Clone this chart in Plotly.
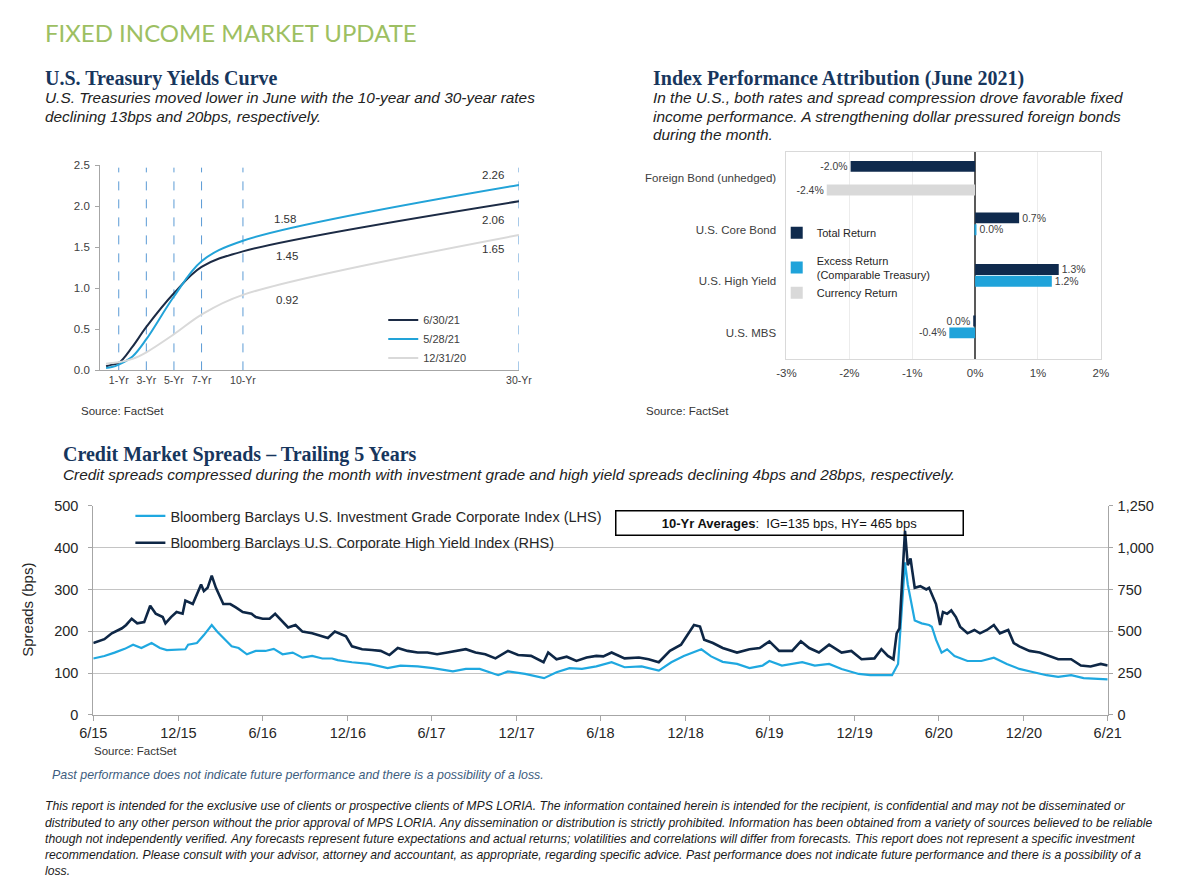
import plotly.graph_objects as go

# The page adds an 8px body margin, so the figure is sized to fill the 1200x888 window exactly.
PAGE_W, PAGE_H, BODY_M = 1200, 888, 8
W, H = PAGE_W - 2 * BODY_M, PAGE_H - 2 * BODY_M


def px(x):
    return (x - BODY_M) / W


def py(y):
    return 1 - (y - BODY_M) / H


SANS = "Liberation Sans, Arial, sans-serif"
SERIF = "Liberation Serif, Times New Roman, serif"
NAVY_HEAD = "#17365d"

# ---------------- Panel 1: Treasury yield curve ----------------
maturities = [0.083, 0.5, 1, 2, 3, 5, 7, 10, 30]
curve_labels = ["6/30/21", "5/28/21", "12/31/20"]
yields_jun21 = [0.05, 0.07, 0.09, 0.29, 0.53, 0.94, 1.26, 1.45, 2.06]
yields_may21 = [0.03, 0.04, 0.07, 0.17, 0.38, 0.90, 1.33, 1.58, 2.26]
yields_dec20 = [0.08, 0.09, 0.10, 0.14, 0.22, 0.44, 0.68, 0.92, 1.65]
tenor_ticks = [1, 3, 5, 7, 10, 30]
tenor_text = ["1-Yr", "3-Yr", "5-Yr", "7-Yr", "10-Yr", "30-Yr"]
curve_colors = ["#1c2b45", "#22a3d8", "#d9d9d9"]

# ---------------- Panel 2: Index performance attribution ----------------
attr_categories = ["Foreign Bond (unhedged)", "U.S. Core Bond", "U.S. High Yield", "U.S. MBS"]
total_return = [-1.98, 0.70, 1.33, -0.03]
excess_return = [None, 0.02, 1.22, -0.41]
currency_return = [-2.36, None, None, None]
attr_names = ["Total Return", "Excess Return<br>(Comparable Treasury)", "Currency Return"]
attr_colors = ["#0f2a4d", "#1fa3da", "#d9d9d9"]

# ---------------- Panel 3: Credit spreads ----------------
ig_dates = ["2015-07-01", "2015-07-25", "2015-08-16", "2015-09-07", "2015-09-25", "2015-10-13",
            "2015-11-04", "2015-11-22", "2015-12-07", "2015-12-28", "2016-01-16", "2016-01-22",
            "2016-02-10", "2016-02-25", "2016-03-13", "2016-03-25", "2016-04-10", "2016-04-25",
            "2016-05-10", "2016-05-28", "2016-06-16", "2016-07-07", "2016-07-25", "2016-08-13",
            "2016-09-04", "2016-09-25", "2016-10-16", "2016-11-07", "2016-11-28", "2016-12-10",
            "2016-12-22", "2017-01-10", "2017-02-16", "2017-03-28", "2017-04-25", "2017-06-01",
            "2017-07-04", "2017-08-16", "2017-09-13", "2017-10-13", "2017-11-22", "2017-12-13",
            "2018-01-19", "2018-03-01", "2018-03-28", "2018-04-25", "2018-05-22", "2018-06-22",
            "2018-07-25", "2018-08-22", "2018-09-28", "2018-11-04", "2018-12-01", "2018-12-28",
            "2019-02-04", "2019-02-25", "2019-03-22", "2019-04-22", "2019-05-19", "2019-06-16",
            "2019-07-01", "2019-07-28", "2019-09-10", "2019-10-07", "2019-11-07", "2019-12-04",
            "2020-01-10", "2020-02-04", "2020-03-01", "2020-03-22", "2020-04-04", "2020-04-13",
            "2020-04-19", "2020-04-25", "2020-05-01", "2020-05-10", "2020-05-25", "2020-06-10",
            "2020-06-16", "2020-06-25", "2020-07-07", "2020-07-19", "2020-08-04", "2020-09-01",
            "2020-10-01", "2020-10-28", "2020-11-25", "2020-12-22", "2021-01-22", "2021-02-19",
            "2021-03-16", "2021-04-13", "2021-05-10", "2021-07-01"]
ig_spread = [135, 141, 149, 158, 168, 160,
             172, 160, 155, 157, 157, 168,
             172, 191, 215, 199, 180, 164,
             160, 145, 153, 153, 158, 145,
             149, 137, 141, 135, 135, 131,
             129, 126, 122, 112, 118, 116,
             112, 104, 110, 110, 95, 104,
             98, 88, 102, 112, 110, 116,
             126, 114, 116, 106, 126, 141,
             157, 140, 127, 122, 112, 118,
             129, 118, 126, 118, 122, 110,
             98, 95, 95, 95, 122, 281,
             365, 312, 281, 226, 219, 215,
             211, 180, 149, 157, 141, 129,
             129, 137, 122, 110, 102, 95,
             91, 95, 88, 85]

hy_dates = ["2015-07-01", "2015-07-25", "2015-08-10", "2015-09-01", "2015-09-10", "2015-09-22",
            "2015-10-04", "2015-10-19", "2015-11-01", "2015-11-13", "2015-11-28", "2015-12-04",
            "2015-12-16", "2015-12-28", "2016-01-10", "2016-01-16", "2016-02-01", "2016-02-19",
            "2016-02-25", "2016-03-04", "2016-03-13", "2016-03-22", "2016-04-07", "2016-04-22",
            "2016-05-04", "2016-05-19", "2016-06-07", "2016-06-16", "2016-07-01", "2016-07-16",
            "2016-07-28", "2016-08-13", "2016-08-25", "2016-09-10", "2016-09-25", "2016-10-16",
            "2016-11-07", "2016-11-19", "2016-12-04", "2016-12-22", "2016-12-28", "2017-01-10",
            "2017-02-01", "2017-02-22", "2017-03-13", "2017-04-01", "2017-04-19", "2017-05-10",
            "2017-06-01", "2017-06-22", "2017-07-13", "2017-08-04", "2017-08-22", "2017-09-13",
            "2017-10-04", "2017-10-25", "2017-11-16", "2017-12-13", "2018-01-04", "2018-02-01",
            "2018-02-28", "2018-03-10", "2018-03-28", "2018-04-19", "2018-05-10", "2018-06-01",
            "2018-06-22", "2018-07-07", "2018-07-25", "2018-08-22", "2018-09-22", "2018-10-13",
            "2018-11-04", "2018-11-28", "2018-12-22", "2019-01-19", "2019-02-01", "2019-02-10",
            "2019-03-01", "2019-03-22", "2019-04-22", "2019-05-19", "2019-06-10", "2019-07-01",
            "2019-07-22", "2019-08-19", "2019-09-07", "2019-09-25", "2019-10-16", "2019-11-07",
            "2019-12-04", "2019-12-25", "2020-01-16", "2020-02-13", "2020-02-28", "2020-03-13",
            "2020-03-25", "2020-04-01", "2020-04-07", "2020-04-13", "2020-04-16", "2020-04-19",
            "2020-04-25", "2020-05-01", "2020-05-04", "2020-05-10", "2020-05-22", "2020-06-04",
            "2020-06-10", "2020-06-25", "2020-07-04", "2020-07-10", "2020-07-19", "2020-07-28",
            "2020-08-07", "2020-08-16", "2020-09-01", "2020-09-16", "2020-09-28", "2020-10-13",
            "2020-10-28", "2020-11-10", "2020-11-28", "2020-12-10", "2020-12-22", "2021-01-13",
            "2021-02-04", "2021-02-25", "2021-03-16", "2021-04-13", "2021-05-04", "2021-05-25",
            "2021-06-16", "2021-07-01"]
hy_spread = [430, 453, 488, 518, 538, 575,
             548, 555, 653, 605, 585, 548,
             585, 615, 605, 683, 663, 780,
             740, 760, 833, 760, 663, 663,
             643, 615, 605, 585, 575, 575,
             605, 555, 523, 538, 498, 488,
             470, 460, 498, 478, 470, 410,
             393, 388, 383, 358, 400, 383,
             373, 373, 363, 373, 383, 393,
             373, 363, 338, 383, 358, 353,
             315, 373, 333, 348, 323, 343,
             353, 350, 373, 338, 343, 333,
             315, 383, 420, 538, 528, 450,
             430, 400, 373, 393, 400, 440,
             383, 383, 440, 400, 373, 420,
             373, 383, 333, 338, 393, 353,
             333, 488, 518, 798, 993, 1100,
             895, 935, 875, 760, 770, 750,
             760, 663, 538, 615, 605, 625,
             585, 528, 488, 508, 488, 508,
             538, 488, 508, 430, 410, 383,
             373, 353, 333, 333, 295, 290,
             305, 295]
date_ticks = ["2015-07-01", "2016-01-01", "2016-07-01", "2017-01-01", "2017-07-01", "2018-01-01",
              "2018-07-01", "2019-01-01", "2019-07-01", "2020-01-01", "2020-07-01", "2021-01-01",
              "2021-07-01"]
date_tick_text = ["6/15", "12/15", "6/16", "12/16", "6/17", "12/17", "6/18", "12/18", "6/19",
                  "12/19", "6/20", "12/20", "6/21"]
spread_names = ["Bloomberg Barclays U.S. Investment Grade Corporate Index (LHS)",
                "Bloomberg Barclays U.S. Corporate High Yield Index (RHS)"]
spread_colors = ["#1fa8e0", "#0e2746"]

fig = go.Figure()

# ---- panel 1 traces
for name, ys, col in zip(curve_labels, [yields_jun21, yields_may21, yields_dec20], curve_colors):
    fig.add_trace(go.Scatter(x=maturities, y=ys, mode="lines", name=name,
                             line=dict(color=col, width=2, shape="spline", smoothing=1.0),
                             xaxis="x", yaxis="y", legend="legend", hoverinfo="skip"))


def pct_label(v):
    if v is None:
        return None
    return "0.0%" if abs(v) < 0.05 else f"{v:.1f}%"


# ---- panel 2 traces
for i, (name, vals, col) in enumerate(zip(attr_names, [total_return, excess_return, currency_return], attr_colors)):
    fig.add_trace(go.Bar(x=vals, y=attr_categories, orientation="h", name=name,
                         marker=dict(color=col, line=dict(width=0)),
                         text=[pct_label(v) for v in vals], textposition="outside",
                         textfont=dict(size=11.5, color="#404040", family=SANS),
                         cliponaxis=False, xaxis="x2", yaxis="y2",
                         legend="legend2" if i == 0 else "legend3", legendgroup=f"g{i}"))

# ---- panel 3 traces
fig.add_trace(go.Scatter(x=ig_dates, y=ig_spread, mode="lines", name=spread_names[0],
                         line=dict(color=spread_colors[0], width=2.2), xaxis="x3", yaxis="y3",
                         legend="legend4", legendgroup="ig"))
fig.add_trace(go.Scatter(x=hy_dates, y=hy_spread, mode="lines", name=spread_names[1],
                         line=dict(color=spread_colors[1], width=2.6), xaxis="x3", yaxis="y4",
                         legend="legend4", legendgroup="hy"))

# dashed tenor lines
shapes = []
for t in tenor_ticks:
    shapes.append(dict(type="line", xref="x", yref="y", x0=t, x1=t, y0=0, y1=2.47,
                       line=dict(color="#5b9bd5", width=1, dash="dash"), layer="below"))

annotations = []


def txt(x, y, text, size, color="#222222", family=SANS, xanchor="left", **kw):
    annotations.append(dict(xref="paper", yref="paper", x=px(x), y=py(y), text=text,
                            showarrow=False, xanchor=xanchor, yanchor="middle",
                            font=dict(size=size, color=color, family=family), **kw))


txt(30, 25, "FIXED INCOME MARKET UPDATE", 24, color="#9dbf62", family="Lato, Open Sans, sans-serif")

txt(30, 72, "<b>U.S. Treasury Yields Curve</b>", 20, color=NAVY_HEAD, family=SERIF)
txt(30, 91, "<i>U.S. Treasuries moved lower in June with the 10-year and 30-year rates</i>", 15.4)
txt(30, 110, "<i>declining 13bps and 20bps, respectively.</i>", 15.4)

txt(652, 72, "<b>Index Performance Attribution (June 2021)</b>", 20, color=NAVY_HEAD, family=SERIF)
txt(652, 91, "<i>In the U.S., both rates and spread compression drove favorable fixed</i>", 15.4)
txt(652, 110, "<i>income performance. A strengthening dollar pressured foreign bonds</i>", 15.4)
txt(652, 129, "<i>during the month.</i>", 15.4)

txt(66, 410, "Source: FactSet", 11.5, color="#333333")
txt(645, 410, "Source: FactSet", 11.5, color="#333333")

txt(48, 455, "<b>Credit Market Spreads – Trailing 5 Years</b>", 20, color=NAVY_HEAD, family=SERIF)
txt(48, 475, "<i>Credit spreads compressed during the month with investment grade and high yield spreads declining 4bps and 28bps, respectively.</i>", 15.4)
txt(80, 757, "Source: FactSet", 11.5, color="#333333")
txt(37, 781, "<i>Past performance does not indicate future performance and there is a possibility of a loss.</i>", 12.4, color="#3d5d7e")

disclaimer = [
    "This report is intended for the exclusive use of clients or prospective clients of MPS LORIA. The information contained herein is intended for the recipient, is confidential and may not be disseminated or",
    "distributed to any other person without the prior approval of MPS LORIA. Any dissemination or distribution is strictly prohibited. Information has been obtained from a variety of sources believed to be reliable",
    "though not independently verified. Any forecasts represent future expectations and actual returns; volatilities and correlations will differ from forecasts. This report does not represent a specific investment",
    "recommendation. Please consult with your advisor, attorney and accountant, as appropriate, regarding specific advice. Past performance does not indicate future performance and there is a possibility of a",
    "loss.",
]
for i, line in enumerate(disclaimer):
    txt(30, 813 + i * 16.6, f"<i>{line}</i>", 12.2, color="#1a1a1a")

# spreads y-axis title
annotations.append(dict(xref="paper", yref="paper", x=px(14), y=py(613), text="Spreads (bps)",
                        textangle=-90, showarrow=False, xanchor="center", yanchor="middle",
                        font=dict(size=15, color="#262626", family=SANS)))

# 10-yr average box
annotations.append(dict(xref="paper", yref="paper", x=px(794), y=py(524),
                        text="<b>10-Yr Averages</b>:  IG=135 bps, HY= 465 bps",
                        showarrow=False, xanchor="center", yanchor="middle",
                        width=342, height=19, bordercolor="#000000", borderwidth=1.5, borderpad=2,
                        bgcolor="rgba(255,255,255,0)",
                        font=dict(size=13, color="#111111", family=SANS)))

# curve value labels (10-Yr and 30-Yr points)
i10 = maturities.index(10)
i30 = maturities.index(30)
label_specs = [
    (yields_may21, i10, 42, 22), (yields_jun21, i10, 44, -5), (yields_dec20, i10, 44, -5),
    (yields_may21, i30, -26, 10), (yields_jun21, i30, -26, -19), (yields_dec20, i30, -26, -14),
]
for ys, idx, dx, dy in label_specs:
    annotations.append(dict(xref="x", yref="y", x=maturities[idx], y=ys[idx], text=f"{ys[idx]:.2f}",
                            showarrow=False, xanchor="center", yanchor="middle", xshift=dx, yshift=dy,
                            font=dict(size=11.5, color="#333333", family=SANS)))

tick_font = dict(size=11.5, color="#404040", family=SANS)

fig.update_layout(
    width=W, height=H, margin=dict(l=0, r=0, t=0, b=0),
    paper_bgcolor="white", plot_bgcolor="rgba(0,0,0,0)",
    font=dict(family=SANS, color="#333333"),
    showlegend=True, barmode="group", bargap=0.31, bargroupgap=0.08,
    shapes=shapes, annotations=annotations,
    # panel 1
    xaxis=dict(domain=[px(88), px(517)], range=[-0.35, 30], anchor="y",
               tickvals=tenor_ticks, ticktext=tenor_text, tickfont=dict(size=10.5, color="#404040", family=SANS),
               showgrid=False, zeroline=False, showline=True, linecolor="#a6a6a6", linewidth=1, ticks=""),
    yaxis=dict(domain=[py(369), py(160)], range=[0, 2.5], anchor="x",
               tickvals=[0, 0.5, 1, 1.5, 2, 2.5], tickformat=".1f", tickfont=tick_font,
               showgrid=False, zeroline=False, showline=True, linecolor="#a6a6a6", linewidth=1,
               ticks="outside", ticklen=4, tickcolor="#a6a6a6", ticklabelstandoff=3),
    # panel 2
    xaxis2=dict(domain=[px(791), px(1113)], range=[-3, 2], anchor="y2",
                tickvals=[-3, -2, -1, 0, 1, 2], ticktext=["-3%", "-2%", "-1%", "0%", "1%", "2%"],
                tickfont=tick_font, showgrid=True, gridcolor="#ececec", gridwidth=1,
                zeroline=True, zerolinecolor="#595959", zerolinewidth=1.5,
                showline=True, mirror=True, linecolor="#d9d9d9", linewidth=1, ticks="",
                ticklabelstandoff=4),
    yaxis2=dict(domain=[py(357), py(147)], anchor="x2", autorange="reversed",
                tickfont=dict(size=11.5, color="#404040", family=SANS), ticks="",
                showline=True, mirror=True, linecolor="#d9d9d9", linewidth=1, showgrid=False,
                ticklabelstandoff=7),
    # panel 3
    xaxis3=dict(domain=[px(81), px(1120)], range=["2015-07-01", "2021-07-01"], anchor="y3", type="date",
                tickvals=date_ticks, ticktext=date_tick_text,
                tickfont=dict(size=14.5, color="#262626", family=SANS),
                showgrid=False, zeroline=False, showline=True, linecolor="#a6a6a6", linewidth=1,
                ticks="outside", ticklen=5, tickcolor="#a6a6a6"),
    yaxis3=dict(domain=[py(720), py(507)], range=[0, 500], anchor="x3", dtick=100,
                tickfont=dict(size=14.5, color="#262626", family=SANS),
                showgrid=True, gridcolor="#c4c4c4", gridwidth=1, zeroline=False,
                showline=True, linecolor="#a6a6a6", linewidth=1, ticks="outside", ticklen=4,
                tickcolor="#a6a6a6", ticklabelstandoff=7),
    yaxis4=dict(domain=[py(720), py(507)], range=[0, 1250], anchor="x3", overlaying="y3", side="right",
                tickvals=[0, 250, 500, 750, 1000, 1250], tickformat=",",
                tickfont=dict(size=14.5, color="#262626", family=SANS),
                showgrid=False, zeroline=False, showline=True, linecolor="#a6a6a6", linewidth=1,
                ticks="outside", ticklen=4, tickcolor="#a6a6a6", ticklabelstandoff=2),
    legend=dict(x=px(378), y=py(303), xanchor="left", yanchor="top", bgcolor="rgba(0,0,0,0)",
                font=dict(size=11, color="#404040", family=SANS), itemwidth=30, tracegroupgap=0),
    legend2=dict(x=px(781), y=py(214), xanchor="left", yanchor="top", bgcolor="rgba(0,0,0,0)",
                 font=dict(size=11, color="#262626", family=SANS), itemwidth=30),
    legend3=dict(x=px(781), y=py(243), xanchor="left", yanchor="top", bgcolor="rgba(0,0,0,0)",
                 font=dict(size=11, color="#262626", family=SANS), itemwidth=30, tracegroupgap=0),
    legend4=dict(x=px(119), y=py(501), xanchor="left", yanchor="top", bgcolor="rgba(0,0,0,0)",
                 font=dict(size=14.5, color="#262626", family=SANS), itemwidth=30, tracegroupgap=5),
)

fig.write_html("out.html")
